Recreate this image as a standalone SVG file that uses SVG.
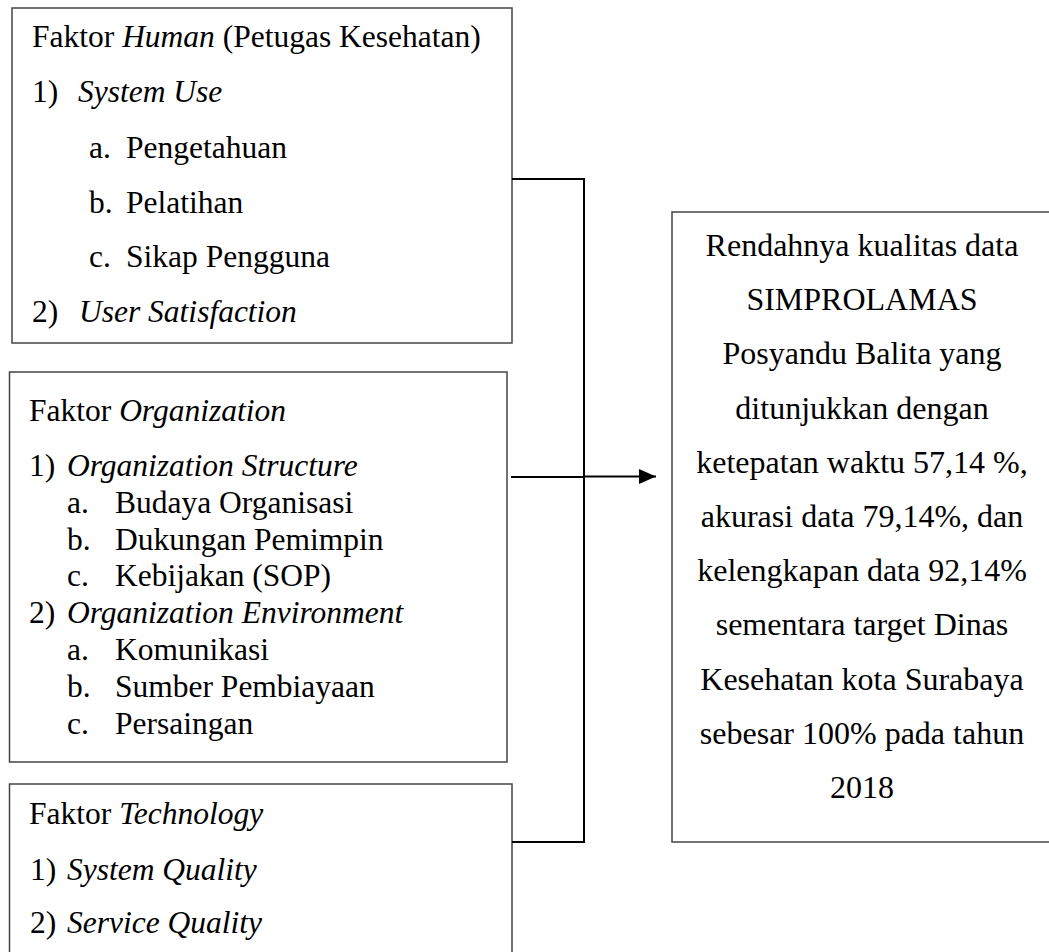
<svg xmlns="http://www.w3.org/2000/svg" width="1049" height="952" viewBox="0 0 1049 952" font-family="'Liberation Serif', 'Times New Roman', serif">
<defs>
<style>
text{font-family:'Liberation Serif','Times New Roman',serif}
.box{fill:#fff;stroke:#444;stroke-width:1.5}
.t{font-size:31.5px;fill:#000}
.r{font-size:32px;fill:#000;text-anchor:middle}
.i{font-style:italic}
.conn{fill:none;stroke:#000;stroke-width:2}
</style>
<marker id="arr" markerWidth="17" markerHeight="16" refX="17" refY="8" orient="auto" markerUnits="userSpaceOnUse">
<path d="M0,0.5 L17,8 L0,15.5 Z" fill="#000"/>
</marker>
</defs>
<rect width="1049" height="952" fill="#fff"/>
<g id="human">
<rect class="box" x="12" y="8" width="500" height="335"/>
<text class="t" x="32" y="47">Faktor <tspan class="i">Human</tspan> (Petugas Kesehatan)</text>
<text class="t" x="32" y="102">1)</text><text class="t i" x="78" y="102">System Use</text>
<text class="t" x="89" y="158">a.</text><text class="t" x="126" y="158">Pengetahuan</text>
<text class="t" x="89" y="213">b.</text><text class="t" x="126" y="213">Pelatihan</text>
<text class="t" x="89" y="267">c.</text><text class="t" x="126" y="267">Sikap Pengguna</text>
<text class="t" x="32" y="322">2)</text><text class="t i" x="79" y="322">User Satisfaction</text>
</g>
<g id="organization">
<rect class="box" x="9.5" y="372" width="497.5" height="390"/>
<text class="t" x="29" y="421">Faktor <tspan class="i">Organization</tspan></text>
<text class="t" x="29" y="476">1)</text><text class="t i" x="67" y="476">Organization Structure</text>
<text class="t" x="67" y="513">a.</text><text class="t" x="115" y="513">Budaya Organisasi</text>
<text class="t" x="67" y="550">b.</text><text class="t" x="115" y="550">Dukungan Pemimpin</text>
<text class="t" x="67" y="586">c.</text><text class="t" x="115" y="586">Kebijakan (SOP)</text>
<text class="t" x="29" y="623">2)</text><text class="t i" x="67" y="623">Organization Environment</text>
<text class="t" x="67" y="660">a.</text><text class="t" x="115" y="660">Komunikasi</text>
<text class="t" x="67" y="697">b.</text><text class="t" x="115" y="697">Sumber Pembiayaan</text>
<text class="t" x="67" y="734">c.</text><text class="t" x="115" y="734">Persaingan</text>
</g>
<g id="technology">
<rect class="box" x="9.5" y="784" width="502.5" height="190"/>
<text class="t" x="29" y="824">Faktor <tspan class="i">Technology</tspan></text>
<text class="t" x="30" y="880">1)</text><text class="t i" x="67" y="880">System Quality</text>
<text class="t" x="30" y="933">2)</text><text class="t i" x="67" y="933">Service Quality</text>
</g>
<g id="outcome">
<rect class="box" x="672" y="212" width="382" height="630"/>
<text class="r" x="862" y="256">Rendahnya kualitas data</text>
<text class="r" x="862" y="310.2">SIMPROLAMAS</text>
<text class="r" x="862" y="364.4">Posyandu Balita yang</text>
<text class="r" x="862" y="418.6">ditunjukkan dengan</text>
<text class="r" x="862" y="472.8">ketepatan waktu 57,14 %,</text>
<text class="r" x="862" y="527">akurasi data 79,14%, dan</text>
<text class="r" x="862" y="581.2">kelengkapan data 92,14%</text>
<text class="r" x="862" y="635.4">sementara target Dinas</text>
<text class="r" x="862" y="689.6">Kesehatan kota Surabaya</text>
<text class="r" x="862" y="743.8">sebesar 100% pada tahun</text>
<text class="r" x="862" y="798">2018</text>
</g>
<g id="connectors">
<path class="conn" d="M512,179 H584 V842 H512"/>
<path class="conn" d="M511,477 H584"/>
<path class="conn" d="M584,476.5 H656" stroke-width="2.5" marker-end="url(#arr)"/>
</g>
</svg>
